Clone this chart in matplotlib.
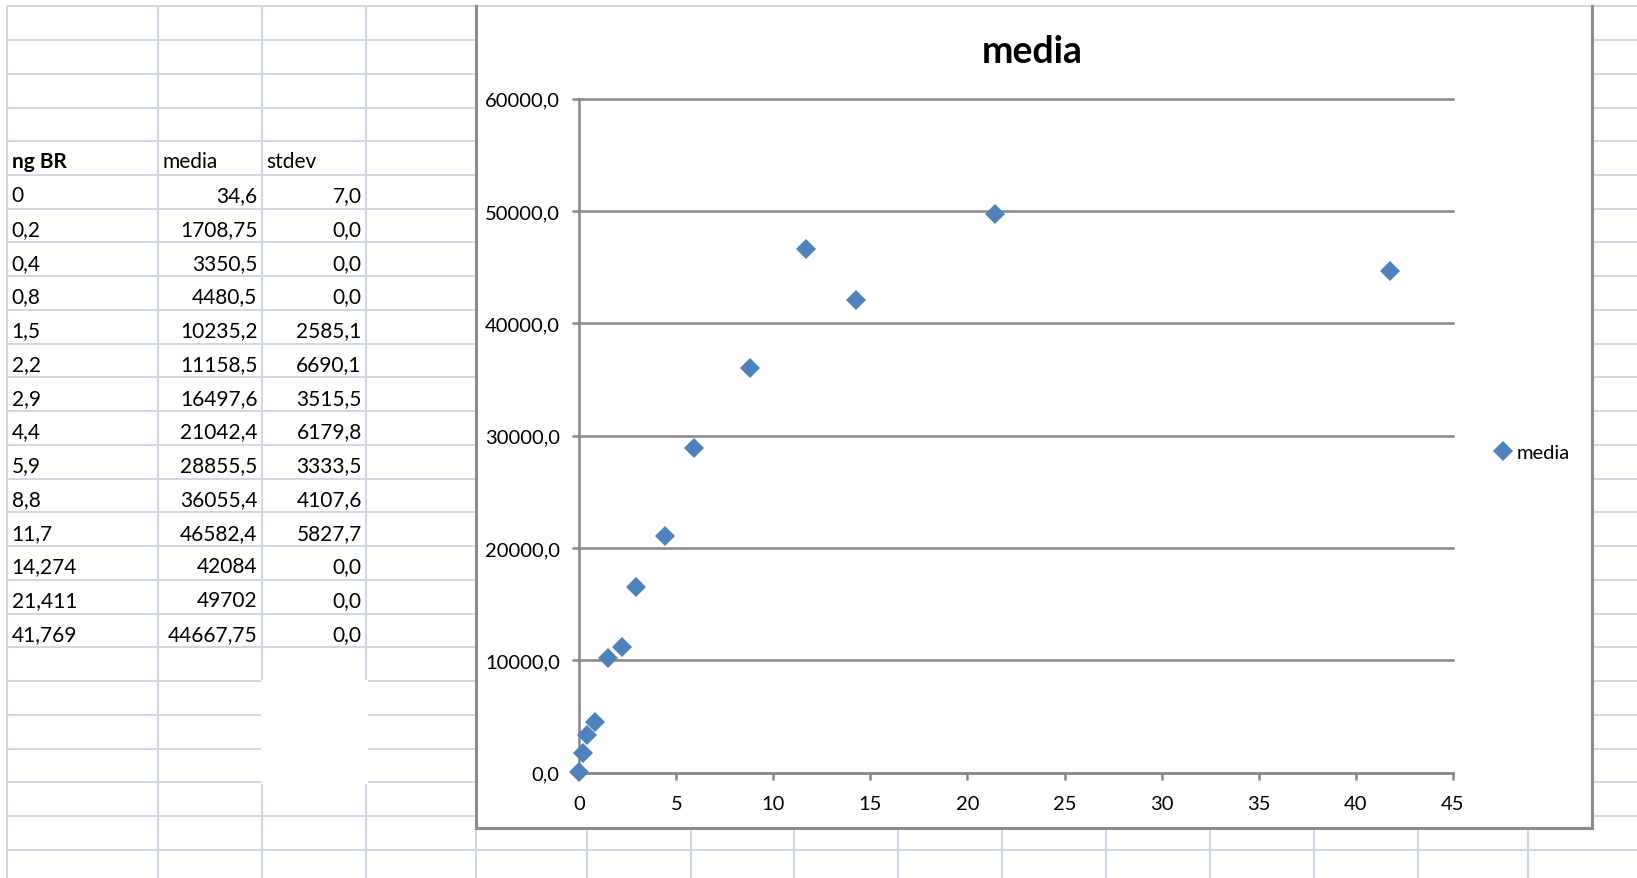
import matplotlib
matplotlib.use("Agg")
import matplotlib.pyplot as plt
from matplotlib.patches import Rectangle
from matplotlib.ticker import FuncFormatter

plt.rcParams['font.family'] = ['Lato', 'DejaVu Sans']

# ---- data ----
ng_br = [0, 0.2, 0.4, 0.8, 1.5, 2.2, 2.9, 4.4, 5.9, 8.8, 11.7, 14.274, 21.411, 41.769]
media = [34.6, 1708.75, 3350.5, 4480.5, 10235.2, 11158.5, 16497.6, 21042.4,
         28855.5, 36055.4, 46582.4, 42084, 49702, 44667.75]
stdev = [7.0, 0.0, 0.0, 0.0, 2585.1, 6690.1, 3515.5, 6179.8, 3333.5, 4107.6,
         5827.7, 0.0, 0.0, 0.0]
headers = ["ng BR", "media", "stdev"]
chart_title = "media"
x_ticks = [0, 5, 10, 15, 20, 25, 30, 35, 40, 45]
y_ticks = [0, 10000, 20000, 30000, 40000, 50000, 60000]

W, H = 1637, 879
fig = plt.figure(figsize=(W / 100, H / 100), dpi=100)
fig.patch.set_facecolor("white")

# ---- worksheet layer (pixel coordinates) ----
bg = fig.add_axes([0, 0, 1, 1])
bg.set_xlim(0, W)
bg.set_ylim(H, 0)
bg.axis("off")

grid_c = "#D0D7E5"
grid_lw = 1.4
row0, row_h = 7.3, 33.74
rows = [row0 + row_h * k for k in range(27)]
cols = [7.3, 157.7, 262, 366, 475.7, 586.7, 690.7, 794, 897.7, 1002.3,
        1106, 1210, 1314, 1417.7, 1527.7]

for y in rows:
    if y <= H:
        bg.plot([7.3, W], [y, y], color=grid_c, lw=grid_lw, zorder=1,
                solid_capstyle="butt")
for x in cols:
    bg.plot([x, x], [7.3, H], color=grid_c, lw=grid_lw, zorder=1,
            solid_capstyle="butt")

# blank block inside the third column
bg.add_patch(Rectangle((260.5, rows[20] - 1.5), 107, rows[23] - rows[20] + 3,
                       facecolor="white", edgecolor="none", zorder=2))

# chart area frame
cx0, cx1, cy0, cy1 = 475.5, 1592, 7.3, 829.3
bg.add_patch(Rectangle((cx0, cy0 + 1), cx1 - cx0, cy1 - cy0 - 1,
                       facecolor="white", edgecolor="none", zorder=3))
frame_c = "#8C8C8C"
bg.plot([cx0, cx0, cx1, cx1], [cy0, cy1, cy1, cy0], color=frame_c, lw=2.2,
        zorder=4, solid_joinstyle="miter")


def cell_text(v):
    if float(v).is_integer():
        return str(int(v))
    return str(v).replace(".", ",")


fs_cell = 15
hdr_row = 4
base_off = 7.5
hb = rows[hdr_row + 1] - base_off
bg.text(11.7, hb, headers[0], fontsize=fs_cell, fontweight="bold",
        ha="left", va="baseline", zorder=5)
bg.text(162.3, hb, headers[1], fontsize=fs_cell, ha="left", va="baseline", zorder=5)
bg.text(266.7, hb, headers[2], fontsize=fs_cell, ha="left", va="baseline", zorder=5)
for i, (a, m, s) in enumerate(zip(ng_br, media, stdev)):
    b = rows[hdr_row + 2 + i] - base_off
    bg.text(11.7, b, cell_text(a), fontsize=fs_cell, ha="left", va="baseline", zorder=5)
    bg.text(257.3, b, cell_text(m), fontsize=fs_cell, ha="right", va="baseline", zorder=5)
    bg.text(361.7, b, f"{s:.1f}".replace(".", ","), fontsize=fs_cell,
            ha="right", va="baseline", zorder=5)

# chart title
bg.text(1032, 63, chart_title, fontsize=27, fontweight="bold",
        ha="center", va="baseline", zorder=5)

# ---- scatter chart ----
px0, px1, py0, py1 = 579.3, 1452.7, 99.7, 773.5
ax = fig.add_axes([px0 / W, 1 - py1 / H, (px1 - px0) / W, (py1 - py0) / H])
ax.patch.set_visible(False)
ax.set_xlim(0, 45)
ax.set_ylim(0, 60000)
ax.set_xticks(x_ticks)
ax.set_yticks(y_ticks)
ax.yaxis.set_major_formatter(FuncFormatter(lambda v, p: f"{v:.1f}".replace(".", ",")))

axis_c = "#878787"
for side in ("top", "right"):
    ax.spines[side].set_visible(False)
for side in ("left", "bottom"):
    ax.spines[side].set_color(axis_c)
    ax.spines[side].set_linewidth(1.8)
ax.tick_params(axis="both", direction="out", length=5, width=1.8, color=axis_c,
               labelsize=14.5, labelcolor="black")
ax.tick_params(axis="y", pad=9)
ax.tick_params(axis="x", pad=11.5)
ax.yaxis.grid(True, color=axis_c, lw=1.8)
ax.set_axisbelow(True)
for gl in ax.get_ygridlines():
    gl.set_clip_on(False)

ax.plot(ng_br, media, linestyle="none", marker="D", markersize=9.8,
        color="#4F81BD", markeredgewidth=0, clip_on=False, zorder=5,
        label=chart_title)

leg = ax.legend(loc="center left", bbox_to_anchor=(1496 / W, 1 - 453 / H),
                bbox_transform=fig.transFigure, frameon=False, fontsize=14.5,
                handlelength=0.7, handletextpad=0.3, borderpad=0,
                borderaxespad=0)

fig.savefig("out.png", dpi=100, facecolor="white")
